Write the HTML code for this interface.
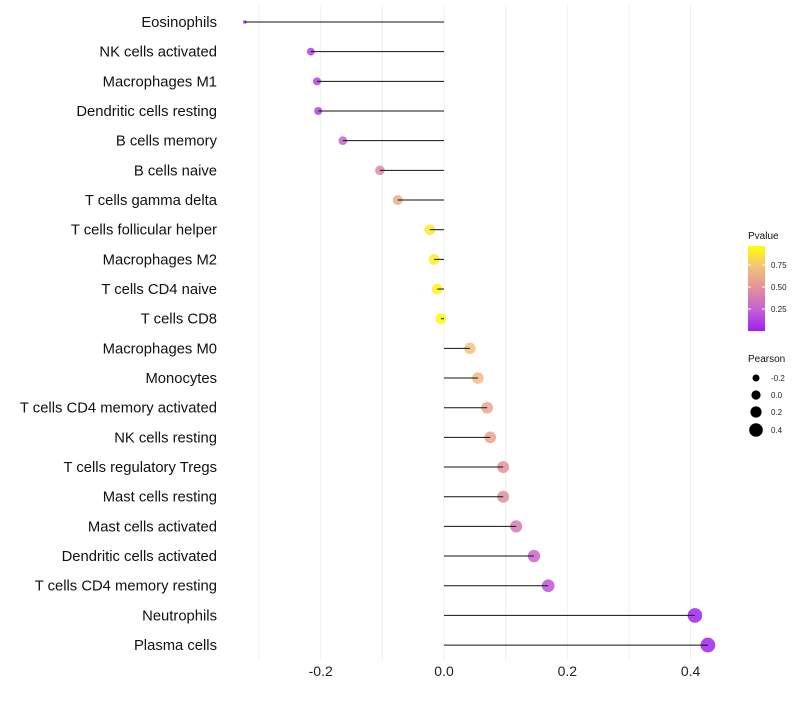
<!DOCTYPE html>
<html><head><meta charset="utf-8"><style>
body{margin:0;background:#fff;font-family:"Liberation Sans",sans-serif}
</style></head><body>
<svg id="chart" width="800" height="700" xmlns="http://www.w3.org/2000/svg" font-family="Liberation Sans, sans-serif"></svg>
<script>
const cells=["Eosinophils","NK cells activated","Macrophages M1","Dendritic cells resting","B cells memory","B cells naive","T cells gamma delta","T cells follicular helper","Macrophages M2","T cells CD4 naive","T cells CD8","Macrophages M0","Monocytes","T cells CD4 memory activated","NK cells resting","T cells regulatory  Tregs ","Mast cells resting","Mast cells activated","Dendritic cells activated","T cells CD4 memory resting","Neutrophils","Plasma cells"];
const pearson=[-0.323,-0.216,-0.206,-0.204,-0.164,-0.104,-0.075,-0.023,-0.016,-0.011,-0.005,0.042,0.055,0.070,0.075,0.096,0.096,0.117,0.146,0.169,0.407,0.428];
const pvalue=[0.02,0.12,0.14,0.14,0.27,0.46,0.65,0.92,0.94,0.96,0.98,0.76,0.72,0.62,0.6,0.5,0.49,0.38,0.28,0.2,0.01,0.01];
const xTicks=[-0.2,0,0.2,0.4];
const xTickLabels=["-0.2","0.0","0.2","0.4"];
const grid=[-0.3,-0.2,-0.1,0,0.1,0.2,0.3,0.4];
const NS="http://www.w3.org/2000/svg";
const svg=document.getElementById('chart');
const x=v=>444+v*616.5;
const y=i=>22+i*29.67;
function mk(t,a,p){const e=document.createElementNS(NS,t);for(const k in a)e.setAttribute(k,a[k]);(p||svg).appendChild(e);return e;}
const stops=[[0,[160,32,240]],[0.25,[196,96,210]],[0.5,[226,144,154]],[0.75,[242,192,128]],[1,[255,255,0]]];
function col(p){const t=Math.max(0,Math.min(1,p));let k=0;while(k<stops.length-2&&t>stops[k+1][0])k++;
const [t0,a]=stops[k],[t1,b]=stops[k+1];const f=(t-t0)/(t1-t0);
return `rgb(${a.map((c,i)=>Math.round(c+(b[i]-c)*f)).join(',')})`;}
const mn=Math.min(...pearson),mx=Math.max(...pearson);
const rad=v=>1.8+5.6*Math.sqrt((v-mn)/(mx-mn));
grid.forEach(g=>{const l=mk('line',{x1:x(g),x2:x(g),y1:5,y2:660,stroke:'#eeeeee','stroke-width':1});
});
xTicks.forEach((t,i)=>{const e=mk('text',{x:x(t),y:676,'text-anchor':'middle','font-size':14,fill:'#222'});e.textContent=xTickLabels[i];
});
cells.forEach((c,i)=>{
const t=mk('text',{x:217,y:y(i)+5,'text-anchor':'end','font-size':14.8,fill:'#111'});t.textContent=c;

const d=mk('circle',{cx:x(pearson[i]),cy:y(i),r:rad(pearson[i]),fill:col(pvalue[i]),'fill-opacity':0.85});

const l=mk('line',{x1:x(0),x2:x(pearson[i]),y1:y(i),y2:y(i),stroke:'#111','stroke-width':1});

});
const g=mk('g',{});
mk('text',{x:748,y:239,'font-size':10,fill:'#111'},g).textContent='Pvalue';
const defs=mk('defs',{},g);const lg=mk('linearGradient',{id:'pg',x1:0,y1:1,x2:0,y2:0},defs);
stops.forEach(s=>mk('stop',{offset:s[0],'stop-color':col(s[0])},lg));
mk('rect',{x:748,y:246,width:17,height:85,fill:'url(#pg)'},g);
[[0.75,265],[0.5,287],[0.25,309]].forEach(([v,yy])=>{mk('line',{x1:748,x2:751,y1:yy,y2:yy,stroke:'#fff'},g);mk('line',{x1:762,x2:765,y1:yy,y2:yy,stroke:'#fff'},g);
mk('text',{x:771,y:yy+3,'font-size':8,fill:'#222'},g).textContent=v.toFixed(2);});
mk('text',{x:748,y:362,'font-size':10,fill:'#111'},g).textContent='Pearson';
[["-0.2",378,3.5],["0.0",395,4.6],["0.2",412,5.6],["0.4",430,6.8]].forEach(([t,yy,r])=>{mk('circle',{cx:756,cy:yy,r:r,fill:'#000'},g);
mk('text',{x:771,y:yy+3,'font-size':8,fill:'#222'},g).textContent=t;});
</script>
</body></html>
